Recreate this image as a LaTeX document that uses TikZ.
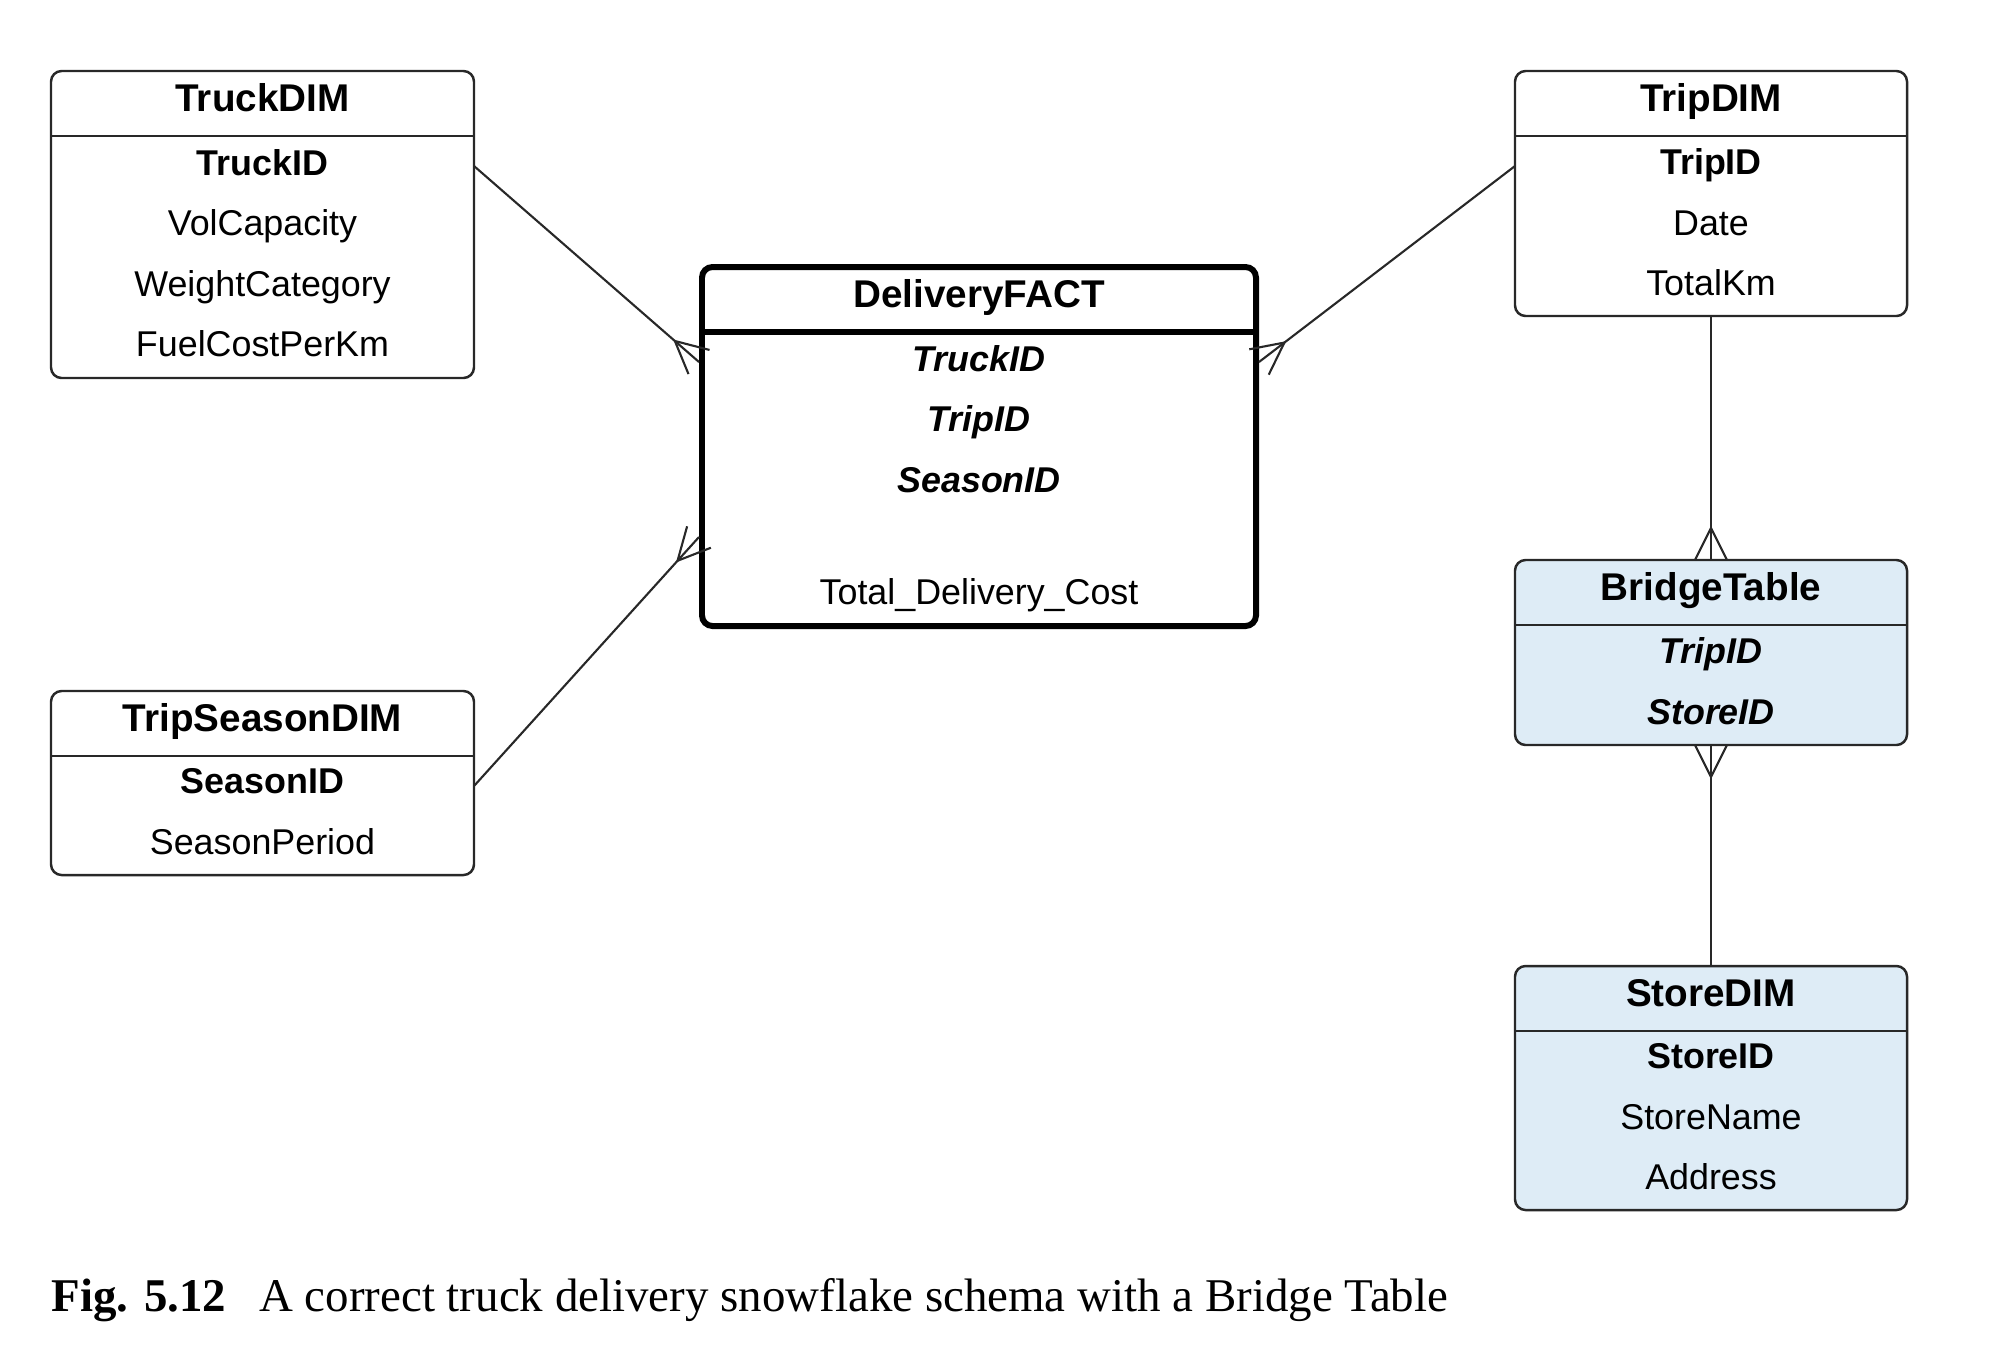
\documentclass[tikz,border=0pt]{standalone}
\usepackage{fontspec}
\setmainfont{Liberation Sans}
\newfontfamily\capfont{Liberation Serif}
\usetikzlibrary{positioning,calc,backgrounds}
\definecolor{linecol}{RGB}{40,40,40}
\definecolor{bridgecol}{RGB}{222,236,246}
% crow's foot at #1, for a line that comes from #2
\newcommand{\crowfoot}[2]{%
  \draw[conn] ($(#1)!0.16cm!90:(#2)$) -- ($(#1)!0.32cm!(#2)$) -- ($(#1)!0.16cm!-90:(#2)$);}

\begin{document}
\begin{tikzpicture}[
    hdr/.style={inner sep=0pt, outer sep=0pt, minimum height=0.65cm, text height=0.28cm, text depth=0.12cm,
      font=\fontsize{11}{13}\selectfont\bfseries},
    attrs/.style={inner sep=0pt, outer sep=0pt, align=center,
      execute at end node={\rule[-0.08cm]{0pt}{0.08cm}}, font=\fontsize{10.2}{17.1}\selectfont},
    tbl/.style={draw=linecol, line width=0.7pt, rounded corners=3pt},
    conn/.style={draw=linecol, line width=0.6pt},
]
\useasboundingbox (0,0) rectangle (20,-13.53);

% dimension tables
\node[hdr, minimum width=4.23cm] (truck) at (2.625,-1.035) {TruckDIM};
\node[attrs, below=0pt of truck, minimum width=4.23cm, minimum height=2.42cm] (truck-b)
  {\textbf{TruckID}\\VolCapacity\\WeightCategory\\FuelCostPerKm};
\node[hdr, minimum width=4.23cm] (season) at (2.625,-7.235) {TripSeasonDIM};
\node[attrs, below=0pt of season, minimum width=4.23cm, minimum height=1.19cm] (season-b)
  {\textbf{SeasonID}\\SeasonPeriod};
\node[hdr, minimum width=3.92cm] (trip) at (17.11,-1.035) {TripDIM};
\node[attrs, below=0pt of trip, minimum width=3.92cm, minimum height=1.80cm] (trip-b)
  {\textbf{TripID}\\Date\\TotalKm};
\node[hdr, minimum width=3.92cm] (bridge) at (17.11,-5.925) {BridgeTable};
\node[attrs, below=0pt of bridge, minimum width=3.92cm, minimum height=1.20cm] (bridge-b)
  {\textbf{\textit{TripID}}\\\textbf{\textit{StoreID}}};
\node[hdr, minimum width=3.92cm] (store) at (17.11,-9.985) {StoreDIM};
\node[attrs, below=0pt of store, minimum width=3.92cm, minimum height=1.79cm] (store-b)
  {\textbf{StoreID}\\StoreName\\Address};

% fact table
\node[hdr, minimum width=5.54cm] (fact) at (9.79,-2.995) {DeliveryFACT};
\node[attrs, below=0pt of fact, minimum width=5.54cm, minimum height=2.94cm] (fact-b)
  {\textbf{\textit{TruckID}}\\\textbf{\textit{TripID}}\\\textbf{\textit{SeasonID}}\\[0.52cm]Total\_Delivery\_Cost};

\begin{scope}[on background layer]
  \foreach \t/\c in {truck/white, season/white, trip/white, bridge/bridgecol, store/bridgecol}
    \draw[tbl, fill=\c] (\t.north west) rectangle (\t-b.south east);
  \draw[tbl, fill=white, draw=black, line width=1.7pt] (fact.north west) rectangle (fact-b.south east);
\end{scope}
\foreach \t in {truck, season, trip, bridge, store}
  \draw[draw=linecol, line width=0.7pt] (\t.south west) -- (\t.south east);
\draw[line width=1.7pt] (fact.south west) -- (fact.south east);

% rows the connectors start from
\coordinate (truck-r1) at ($(truck-b.north east)+(0,-0.30)$);
\coordinate (season-r1) at ($(season-b.north east)+(0,-0.30)$);
\coordinate (trip-r1) at ($(trip-b.north west)+(0,-0.30)$);
\coordinate (fact-w1) at ($(fact-b.north west)+(-0.03,-0.30)$);
\coordinate (fact-e1) at ($(fact-b.north east)+(0.03,-0.30)$);
\coordinate (fact-w4) at ($(fact-b.north west)+(-0.03,-2.05)$);

\draw[conn] (truck-r1) -- (fact-w1);
\crowfoot{fact-w1}{truck-r1}
\draw[conn] (trip-r1) -- (fact-e1);
\crowfoot{fact-e1}{trip-r1}
\draw[conn] (season-r1) -- (fact-w4);
\crowfoot{fact-w4}{season-r1}
\draw[conn] (trip-b.south) -- (bridge.north);
\crowfoot{bridge.north}{trip-b.south}
\draw[conn] (bridge-b.south) -- (store.north);
\crowfoot{bridge-b.south}{store.north}

\node[anchor=base west, inner sep=0pt, font=\capfont\fontsize{13.35}{16}\selectfont] (caption) at (0.51,-13.11)
  {\textbf{Fig. 5.12}\hspace{0.33cm}A correct truck delivery snowflake schema with a Bridge Table};
\end{tikzpicture}
\end{document}
